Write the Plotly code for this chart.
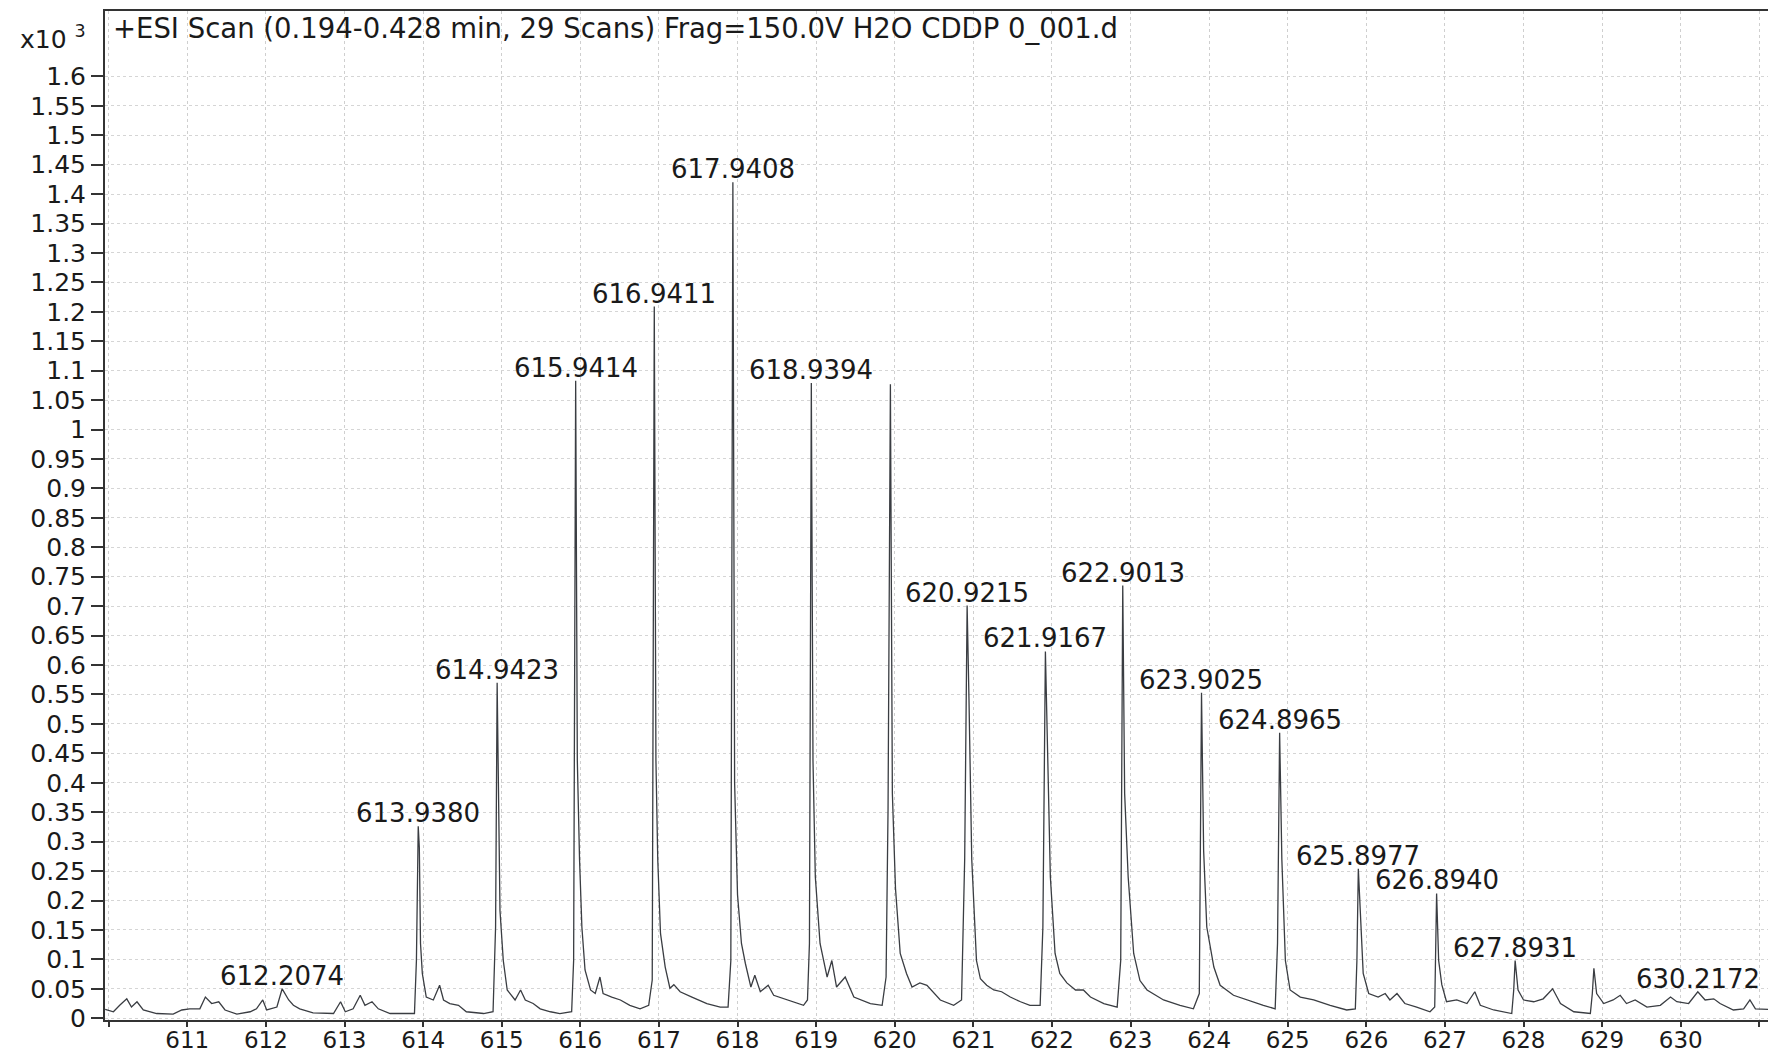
import plotly.graph_objects as go

# ---------------- data (intensity in x10^3 counts) ----------------
profile_mz = [
    609.955, 610.06, 610.14, 610.23, 610.29, 610.36, 610.44, 610.61, 610.82, 610.93,
    611.03, 611.16, 611.23, 611.31, 611.40, 611.48, 611.63, 611.80, 611.88, 611.96,
    612.01, 612.14, 612.207, 612.29, 612.35, 612.43, 612.60, 612.86, 612.95, 613.01,
    613.11, 613.20, 613.26, 613.35, 613.43, 613.58, 613.89, 613.915, 613.938, 613.952,
    613.967, 613.99, 614.04, 614.13, 614.21, 614.26, 614.34, 614.45, 614.55, 614.77,
    614.89, 614.922, 614.942, 614.958, 614.978, 615.02, 615.07, 615.17, 615.24, 615.30,
    615.40, 615.49, 615.62, 615.74, 615.89, 615.915, 615.941, 615.962, 615.99, 616.02,
    616.06, 616.13, 616.19, 616.25, 616.29, 616.40, 616.51, 616.63, 616.76, 616.87,
    616.915, 616.941, 616.962, 616.985, 617.02, 617.08, 617.14, 617.19, 617.27, 617.42,
    617.61, 617.78, 617.88, 617.915, 617.941, 617.963, 618.00, 618.05, 618.10, 618.17,
    618.22, 618.29, 618.39, 618.46, 618.63, 618.84, 618.89, 618.915, 618.939, 618.96,
    618.99, 619.05, 619.14, 619.20, 619.26, 619.37, 619.48, 619.69, 619.84, 619.89,
    619.915, 619.945, 619.97, 620.01, 620.07, 620.15, 620.22, 620.32, 620.41, 620.58,
    620.75, 620.85, 620.89, 620.921, 620.945, 620.98, 621.04, 621.09, 621.17, 621.26,
    621.36, 621.47, 621.60, 621.72, 621.85, 621.885, 621.917, 621.94, 621.98, 622.04,
    622.10, 622.19, 622.30, 622.40, 622.49, 622.66, 622.83, 622.875, 622.901, 622.925,
    622.97, 623.04, 623.12, 623.21, 623.29, 623.42, 623.63, 623.80, 623.875, 623.903,
    623.93, 623.97, 624.06, 624.14, 624.31, 624.48, 624.69, 624.84, 624.87, 624.897,
    624.925, 624.97, 625.03, 625.16, 625.33, 625.54, 625.75, 625.86, 625.88, 625.898,
    625.93, 625.96, 626.03, 626.15, 626.24, 626.30, 626.39, 626.49, 626.64, 626.81,
    626.87, 626.894, 626.92, 626.96, 627.02, 627.15, 627.28, 627.38, 627.45, 627.62,
    627.85, 627.875, 627.893, 627.93, 628.00, 628.13, 628.25, 628.37, 628.47, 628.64,
    628.85, 628.875, 628.895, 628.93, 629.02, 629.14, 629.23, 629.31, 629.42, 629.57,
    629.74, 629.87, 629.95, 630.10, 630.217, 630.31, 630.42, 630.50, 630.67, 630.80,
    630.88, 630.95, 631.11,
]
profile_int = [
    0.015, 0.011, 0.022, 0.033, 0.019, 0.028, 0.014, 0.008, 0.007, 0.014,
    0.016, 0.016, 0.036, 0.025, 0.028, 0.014, 0.007, 0.011, 0.016, 0.031,
    0.014, 0.019, 0.050, 0.031, 0.022, 0.016, 0.009, 0.008, 0.028, 0.011,
    0.016, 0.039, 0.022, 0.028, 0.016, 0.008, 0.008, 0.098, 0.326, 0.290,
    0.127, 0.076, 0.036, 0.031, 0.056, 0.031, 0.025, 0.022, 0.011, 0.008,
    0.011, 0.155, 0.570, 0.427, 0.183, 0.098, 0.048, 0.031, 0.048, 0.031,
    0.025, 0.016, 0.011, 0.008, 0.011, 0.098, 1.083, 0.438, 0.270, 0.155,
    0.082, 0.048, 0.042, 0.070, 0.042, 0.036, 0.031, 0.022, 0.016, 0.022,
    0.065, 1.209, 0.438, 0.270, 0.144, 0.087, 0.051, 0.057, 0.045, 0.036,
    0.025, 0.019, 0.019, 0.098, 1.420, 0.400, 0.210, 0.127, 0.093, 0.053,
    0.073, 0.045, 0.056, 0.039, 0.031, 0.022, 0.031, 0.127, 1.079, 0.438,
    0.240, 0.127, 0.070, 0.098, 0.053, 0.070, 0.036, 0.025, 0.022, 0.070,
    0.354, 1.077, 0.382, 0.220, 0.110, 0.076, 0.053, 0.060, 0.056, 0.031,
    0.022, 0.031, 0.270, 0.701, 0.540, 0.270, 0.098, 0.067, 0.056, 0.048,
    0.045, 0.036, 0.028, 0.022, 0.022, 0.155, 0.623, 0.495, 0.240, 0.110,
    0.076, 0.060, 0.048, 0.048, 0.036, 0.025, 0.019, 0.098, 0.735, 0.382,
    0.240, 0.110, 0.064, 0.048, 0.042, 0.031, 0.022, 0.016, 0.042, 0.553,
    0.285, 0.155, 0.087, 0.056, 0.039, 0.031, 0.022, 0.016, 0.127, 0.485,
    0.270, 0.098, 0.048, 0.036, 0.031, 0.022, 0.014, 0.016, 0.098, 0.254,
    0.155, 0.076, 0.042, 0.036, 0.042, 0.031, 0.042, 0.025, 0.019, 0.011,
    0.019, 0.212, 0.098, 0.057, 0.028, 0.031, 0.025, 0.045, 0.022, 0.014,
    0.008, 0.048, 0.098, 0.048, 0.031, 0.028, 0.033, 0.050, 0.025, 0.011,
    0.008, 0.042, 0.085, 0.042, 0.025, 0.031, 0.039, 0.025, 0.031, 0.019,
    0.022, 0.036, 0.028, 0.025, 0.045, 0.031, 0.033, 0.025, 0.014, 0.016,
    0.031, 0.016, 0.015,
]

label_text = ["612.2074", "613.9380", "614.9423", "615.9414", "616.9411", "617.9408",
              "618.9394", "620.9215", "621.9167", "622.9013", "623.9025", "624.8965",
              "625.8977", "626.8940", "627.8931", "630.2172"]
label_mz = [612.2074, 613.9380, 614.9423, 615.9414, 616.9411, 617.9408,
            618.9394, 620.9215, 621.9167, 622.9013, 623.9025, 624.8965,
            625.8977, 626.8940, 627.8931, 630.2172]
label_int = [0.050, 0.326, 0.570, 1.083, 1.209, 1.420,
             1.079, 0.701, 0.623, 0.735, 0.553, 0.485,
             0.254, 0.212, 0.098, 0.045]

x_tickvals = list(range(611, 631))
x_ticktext = [str(v) for v in x_tickvals]
y_tickvals = [0, 0.05, 0.1, 0.15, 0.2, 0.25, 0.3, 0.35, 0.4, 0.45, 0.5, 0.55, 0.6,
              0.65, 0.7, 0.75, 0.8, 0.85, 0.9, 0.95, 1, 1.05, 1.1, 1.15, 1.2, 1.25,
              1.3, 1.35, 1.4, 1.45, 1.5, 1.55, 1.6]
y_ticktext = ["0", "0.05", "0.1", "0.15", "0.2", "0.25", "0.3", "0.35", "0.4", "0.45",
              "0.5", "0.55", "0.6", "0.65", "0.7", "0.75", "0.8", "0.85", "0.9", "0.95",
              "1", "1.05", "1.1", "1.15", "1.2", "1.25", "1.3", "1.35", "1.4", "1.45",
              "1.5", "1.55", "1.6"]

title_text = "+ESI Scan (0.194-0.428 min, 29 Scans) Frag=150.0V H2O CDDP 0_001.d"

FONT = "DejaVu Sans"
TXT = "#1a1a1a"

fig = go.Figure()
fig.add_trace(go.Scatter(
    x=profile_mz, y=profile_int, mode="lines",
    line=dict(color="#3a3d42", width=1.3),
    hoverinfo="skip", showlegend=False,
))

annotations = []
for t, xm, yi in zip(label_text, label_mz, label_int):
    annotations.append(dict(
        x=xm, y=yi, xref="x", yref="y", text=t, showarrow=False,
        xanchor="center", yanchor="middle", yshift=13,
        font=dict(family=FONT, size=26, color=TXT),
    ))
annotations.append(dict(
    x=0, y=1, xref="paper", yref="paper", text=title_text, showarrow=False,
    xanchor="left", yanchor="middle", xshift=6, yshift=-17,
    font=dict(family=FONT, size=27.5, color=TXT),
))
annotations.append(dict(
    x=0, y=1, xref="paper", yref="paper", text="x10 <sup>3</sup>", showarrow=False,
    xanchor="right", yanchor="middle", xshift=-17, yshift=-26,
    font=dict(family=FONT, size=25, color=TXT),
))

fig.update_layout(
    width=1768, height=1052,
    margin=dict(l=105, r=0, t=11, b=32, autoexpand=False),
    paper_bgcolor="white", plot_bgcolor="white",
    font=dict(family=FONT, color=TXT),
    annotations=annotations,
    showlegend=False,
)
fig.update_xaxes(
    range=[609.953, 631.11], automargin=False,
    tickmode="array", tickvals=x_tickvals, ticktext=x_ticktext,
    ticks="outside", ticklen=5, tickwidth=1.5, tickcolor="#333",
    ticklabelstandoff=-7,
    tickfont=dict(family=FONT, size=23, color=TXT),
    minor=dict(dtick=1, tick0=610, ticks="outside", ticklen=5, tickwidth=1.5,
               tickcolor="#333", showgrid=True, gridcolor="#cfcfcf", gridwidth=1,
               griddash="dot"),
    showline=True, linecolor="#333", linewidth=2, mirror=True,
    showgrid=True, gridcolor="#cfcfcf", gridwidth=1, griddash="dot",
    zeroline=False,
)
fig.update_yaxes(
    range=[-0.003, 1.711], automargin=False,
    tickmode="array", tickvals=y_tickvals, ticktext=y_ticktext,
    ticks="outside", ticklen=12, tickwidth=1.5, tickcolor="#333",
    tickfont=dict(family=FONT, size=25, color=TXT),
    showline=True, linecolor="#333", linewidth=2,
    showgrid=True, gridcolor="#d5d5d5", gridwidth=1, griddash="dot",
    zeroline=False,
)

fig.write_html(
    "out.html",
    config={"displayModeBar": False},
    post_script="document.body.style.margin='0';document.body.style.overflow='hidden';",
)
